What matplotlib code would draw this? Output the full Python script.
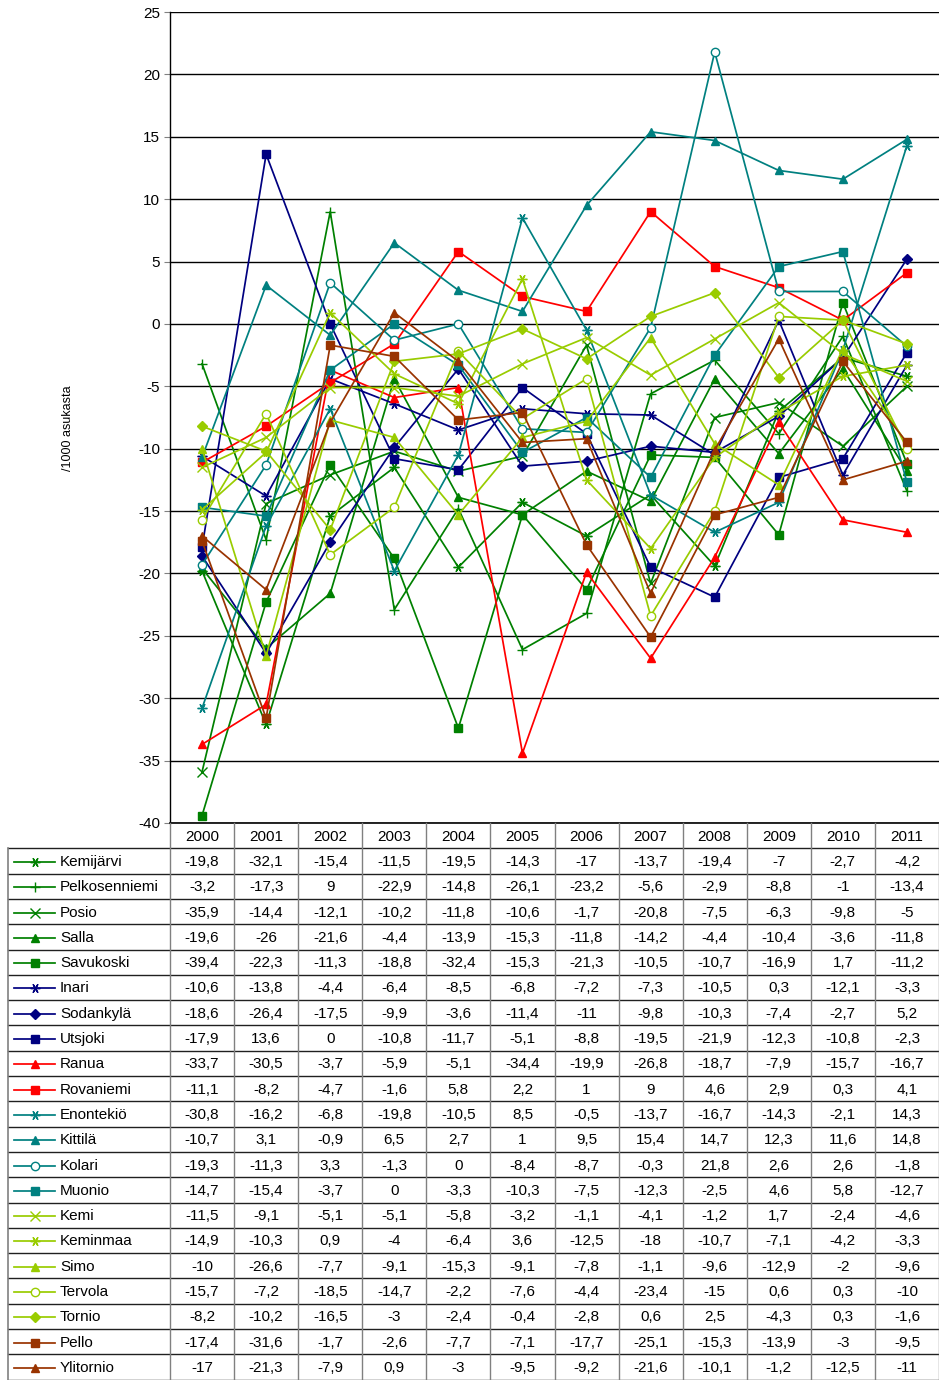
import matplotlib
matplotlib.use("Agg")
import matplotlib.pyplot as plt
from matplotlib.lines import Line2D
import numpy as np

plt.rcParams['font.family'] = ['Liberation Sans', 'DejaVu Sans']

years = ['2000', '2001', '2002', '2003', '2004', '2005', '2006', '2007', '2008', '2009', '2010', '2011']

names = ['Kemijärvi', 'Pelkosenniemi', 'Posio', 'Salla', 'Savukoski', 'Inari', 'Sodankylä',
         'Utsjoki', 'Ranua', 'Rovaniemi', 'Enontekiö', 'Kittilä', 'Kolari', 'Muonio', 'Kemi',
         'Keminmaa', 'Simo', 'Tervola', 'Tornio', 'Pello', 'Ylitornio']

kemijarvi = [-19.8, -32.1, -15.4, -11.5, -19.5, -14.3, -17, -13.7, -19.4, -7, -2.7, -4.2]
pelkosenniemi = [-3.2, -17.3, 9, -22.9, -14.8, -26.1, -23.2, -5.6, -2.9, -8.8, -1, -13.4]
posio = [-35.9, -14.4, -12.1, -10.2, -11.8, -10.6, -1.7, -20.8, -7.5, -6.3, -9.8, -5]
salla = [-19.6, -26, -21.6, -4.4, -13.9, -15.3, -11.8, -14.2, -4.4, -10.4, -3.6, -11.8]
savukoski = [-39.4, -22.3, -11.3, -18.8, -32.4, -15.3, -21.3, -10.5, -10.7, -16.9, 1.7, -11.2]
inari = [-10.6, -13.8, -4.4, -6.4, -8.5, -6.8, -7.2, -7.3, -10.5, 0.3, -12.1, -3.3]
sodankyla = [-18.6, -26.4, -17.5, -9.9, -3.6, -11.4, -11, -9.8, -10.3, -7.4, -2.7, 5.2]
utsjoki = [-17.9, 13.6, 0, -10.8, -11.7, -5.1, -8.8, -19.5, -21.9, -12.3, -10.8, -2.3]
ranua = [-33.7, -30.5, -3.7, -5.9, -5.1, -34.4, -19.9, -26.8, -18.7, -7.9, -15.7, -16.7]
rovaniemi = [-11.1, -8.2, -4.7, -1.6, 5.8, 2.2, 1, 9, 4.6, 2.9, 0.3, 4.1]
enontekio = [-30.8, -16.2, -6.8, -19.8, -10.5, 8.5, -0.5, -13.7, -16.7, -14.3, -2.1, 14.3]
kittila = [-10.7, 3.1, -0.9, 6.5, 2.7, 1, 9.5, 15.4, 14.7, 12.3, 11.6, 14.8]
kolari = [-19.3, -11.3, 3.3, -1.3, 0, -8.4, -8.7, -0.3, 21.8, 2.6, 2.6, -1.8]
muonio = [-14.7, -15.4, -3.7, 0, -3.3, -10.3, -7.5, -12.3, -2.5, 4.6, 5.8, -12.7]
kemi = [-11.5, -9.1, -5.1, -5.1, -5.8, -3.2, -1.1, -4.1, -1.2, 1.7, -2.4, -4.6]
keminmaa = [-14.9, -10.3, 0.9, -4, -6.4, 3.6, -12.5, -18, -10.7, -7.1, -4.2, -3.3]
simo = [-10, -26.6, -7.7, -9.1, -15.3, -9.1, -7.8, -1.1, -9.6, -12.9, -2, -9.6]
tervola = [-15.7, -7.2, -18.5, -14.7, -2.2, -7.6, -4.4, -23.4, -15, 0.6, 0.3, -10]
tornio = [-8.2, -10.2, -16.5, -3, -2.4, -0.4, -2.8, 0.6, 2.5, -4.3, 0.3, -1.6]
pello = [-17.4, -31.6, -1.7, -2.6, -7.7, -7.1, -17.7, -25.1, -15.3, -13.9, -3, -9.5]
ylitornio = [-17, -21.3, -7.9, 0.9, -3, -9.5, -9.2, -21.6, -10.1, -1.2, -12.5, -11]

series = [kemijarvi, pelkosenniemi, posio, salla, savukoski, inari, sodankyla, utsjoki,
          ranua, rovaniemi, enontekio, kittila, kolari, muonio, kemi, keminmaa, simo,
          tervola, tornio, pello, ylitornio]

GREEN = '#008000'
NAVY = '#000080'
RED = '#FF0000'
TEAL = '#008080'
LIME = '#99CC00'
BROWN = '#993300'
AST = (6, 2, 90)

styles = [
    (GREEN, AST, True), (GREEN, '+', True), (GREEN, 'x', True), (GREEN, '^', True), (GREEN, 's', True),
    (NAVY, AST, True), (NAVY, 'D', True), (NAVY, 's', True),
    (RED, '^', True), (RED, 's', True),
    (TEAL, AST, True), (TEAL, '^', True), (TEAL, 'o', False), (TEAL, 's', True),
    (LIME, 'x', True), (LIME, AST, True), (LIME, '^', True), (LIME, 'o', False), (LIME, 'D', True),
    (BROWN, 's', True), (BROWN, '^', True),
]

W, H = 939, 1380
fig = plt.figure(figsize=(W / 100, H / 100), dpi=100)

AX_L, AX_R, AX_T, AX_B = 170, 939, 12, 823
ax = fig.add_axes([AX_L / W, 1 - AX_B / H, (AX_R - AX_L) / W, (AX_B - AX_T) / H])

def msize(m):
    if m in ('s', '^', 'o'):
        return 6
    if m == 'D':
        return 5
    return 7

x = np.arange(len(years))
for vals, (c, m, filled) in zip(series, styles):
    ax.plot(x, vals, color=c, lw=1.25, marker=m, ms=msize(m),
            markerfacecolor=c if filled else 'white', markeredgecolor=c,
            markeredgewidth=1.0, clip_on=False, zorder=3)

ax.set_xlim(-0.5, len(years) - 0.5)
ax.set_ylim(-40, 25)
ax.set_yticks(np.arange(-40, 26, 5))
ax.set_yticklabels([str(v) for v in range(-40, 26, 5)], fontsize=11)
ax.tick_params(axis='y', length=4, width=0.8, color='#808080', pad=3)
ax.set_xticks([])
ax.grid(axis='y', color='black', lw=1.0)
ax.set_axisbelow(True)
for s in ['top', 'right', 'bottom']:
    ax.spines[s].set_visible(False)
ax.spines['left'].set_linewidth(1.0)

# ---- data table below the chart ----
def fx(px):
    return px / W

def fy(py):
    return 1 - py / H

fig.text(fx(68), fy(428), '/1000 asukasta', rotation=90, ha='center', va='center', fontsize=9)

col_w = (AX_R - AX_L) / len(years)
row_h = 25.3
top = AX_B
tab_left = 8
FS = 11

def fmt(v):
    if float(v).is_integer():
        return '%d' % v
    return ('%.1f' % v).replace('.', ',')

lines = []
lines.append(((AX_L, AX_R), (top, top), 'black', 1.2))
for i, yr in enumerate(years):
    cx = AX_L + col_w * (i + 0.5)
    fig.text(fx(cx), fy(top + row_h / 2 + 1), yr, ha='center', va='center', fontsize=FS)

n_rows = len(names)
bottom = top + row_h * (n_rows + 1)
for r in range(n_rows + 1):
    yy = top + row_h * (r + 1)
    lines.append(((tab_left, AX_R), (yy, yy), '#202020', 1.0))
for i in range(len(years) + 1):
    xx = AX_L + col_w * i
    lines.append(((xx, xx), (top, bottom), '#808080', 1.0))
lines.append(((tab_left, tab_left), (top + row_h, bottom), '#808080', 1.2))

for (xs, ys, c, lw) in lines:
    fig.add_artist(Line2D([fx(v) for v in xs], [fy(v) for v in ys], color=c, lw=lw,
                          transform=fig.transFigure))

for r, (name, vals, (c, m, filled)) in enumerate(zip(names, series, styles)):
    cy = top + row_h * (r + 1.5) + 1
    fig.add_artist(Line2D([fx(14), fx(55)], [fy(cy), fy(cy)], color=c, lw=1.25,
                          transform=fig.transFigure))
    fig.add_artist(Line2D([fx(34.5)], [fy(cy)], color=c, marker=m, ms=msize(m), lw=0,
                          markerfacecolor=c if filled else 'white', markeredgecolor=c,
                          markeredgewidth=1.0, transform=fig.transFigure))
    fig.text(fx(60), fy(cy), name, ha='left', va='center', fontsize=FS)
    for i, v in enumerate(vals):
        cx = AX_L + col_w * (i + 0.5)
        fig.text(fx(cx), fy(cy), fmt(v), ha='center', va='center', fontsize=FS)

fig.savefig('out.png', dpi=100)
